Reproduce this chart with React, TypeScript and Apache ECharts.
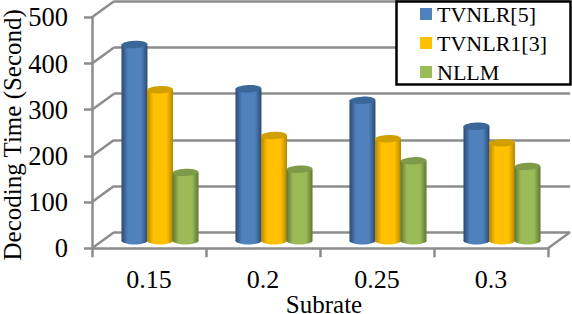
import React, { useEffect, useRef } from "react";
import * as echarts from "echarts";

const categories = ["0.15", "0.2", "0.25", "0.3"];
const seriesNames = ["TVNLR[5]", "TVNLR1[3]", "NLLM"];
const tvnlr5 = [425, 329, 304, 248];
const tvnlr1 = [327, 228, 221, 212];
const nllm = [148, 155, 173, 161];
const yTicks = [0, 100, 200, 300, 400, 500];
const seriesValues = [tvnlr5, tvnlr1, nllm];

const bodyColors = ["#4f81bd", "#ffc000", "#9bbb59"];
const edgeColors = ["#2b4a73", "#b58700", "#5f7732"];
const capColors = ["#3a6797", "#d19f00", "#7f9a48"];

const FONT = "Liberation Serif";
const GRID_LINE = "#8c8c8c";
const DX = 22;
const DY = 16;

function cylinder(seriesIndex: number) {
  return (params: any, api: any) => {
    const idx = api.value(0);
    const v = api.value(1);
    const base = api.coord([idx, 0]);
    const top = api.coord([idx, v]);
    const band = api.size([1, 0])[0];
    const w = band * 0.228;
    const step = band * 0.224;
    const cx = base[0] + DX / 2 + (seriesIndex - 1) * step;
    const lift = 7.5;
    const yb = base[1] - lift;
    const yt = top[1] - lift;
    const rx = w / 2;
    const ry = 3.7;
    const grad = new echarts.graphic.LinearGradient(0, 0, 1, 0, [
      { offset: 0, color: edgeColors[seriesIndex] },
      { offset: 0.25, color: bodyColors[seriesIndex] },
      { offset: 0.75, color: bodyColors[seriesIndex] },
      { offset: 1, color: edgeColors[seriesIndex] },
    ]);
    return {
      type: "group",
      children: [
        { type: "ellipse", shape: { cx, cy: yb, rx, ry }, style: { fill: grad } },
        { type: "rect", shape: { x: cx - rx, y: yt, width: w, height: yb - yt }, style: { fill: grad } },
        {
          type: "ellipse",
          shape: { cx, cy: yt, rx, ry },
          rotation: 0.04,
          originX: cx,
          originY: yt,
          style: { fill: capColors[seriesIndex] },
        },
      ],
    };
  };
}

export default function App() {
  const ref = useRef<HTMLDivElement>(null);
  useEffect(() => {
    const chart = echarts.init(ref.current!, undefined, { renderer: "svg" });
    chart.setOption({
      animation: false,
      backgroundColor: "#ffffff",
      textStyle: { fontFamily: FONT },
      grid: [
        { left: 92, top: 17.3, width: 456, height: 231, outerBoundsMode: "none", containLabel: false },
        { left: 114, top: 1.3, width: 456, height: 231, outerBoundsMode: "none", containLabel: false },
      ],
      xAxis: [
        {
          type: "category",
          gridIndex: 0,
          data: categories,
          boundaryGap: true,
          axisLine: { lineStyle: { color: GRID_LINE, width: 2.5 } },
          axisTick: { show: true, length: 9, alignWithLabel: false, lineStyle: { color: GRID_LINE, width: 2.5 } },
          axisLabel: { color: "#000", fontFamily: FONT, fontSize: 26, margin: 18 },
          name: "Subrate",
          nameLocation: "middle",
          nameGap: 44,
          nameMoveOverlap: false,
          nameTextStyle: { color: "#000", fontFamily: FONT, fontSize: 25, padding: [0, 0, 0, 8] },
        },
        {
          type: "category",
          gridIndex: 1,
          data: categories,
          show: false,
        },
      ],
      yAxis: [
        {
          type: "value",
          gridIndex: 0,
          min: 0,
          max: 500,
          interval: 100,
          axisLine: { show: true, lineStyle: { color: GRID_LINE, width: 2.5 } },
          axisTick: { show: true, length: 8, lineStyle: { color: GRID_LINE, width: 2.5 } },
          axisLabel: { color: "#000", fontFamily: FONT, fontSize: 26.5, margin: 24 },
          splitLine: { show: false },
          name: "Decoding Time (Second)",
          nameLocation: "middle",
          nameGap: 67,
          nameRotate: 90,
          nameMoveOverlap: false,
          nameTextStyle: { color: "#000", fontFamily: FONT, fontSize: 25, padding: [0, 4, 0, 0] },
        },
        {
          type: "value",
          gridIndex: 1,
          min: 0,
          max: 500,
          interval: 100,
          axisLine: { show: false },
          axisTick: { show: false },
          axisLabel: { show: false },
          splitLine: { show: true, lineStyle: { color: GRID_LINE, width: 2.5 } },
        },
      ],
      legend: {
        orient: "vertical",
        left: 415,
        top: 3,
        padding: [0, 0, 0, 5],
        itemWidth: 12,
        itemHeight: 12,
        itemGap: 7,
        icon: "rect",
        z: 20,
        data: seriesNames,
        textStyle: { color: "#000", fontFamily: FONT, fontSize: 22, padding: [0, 0, 0, 0] },
      },
      graphic: [
        {
          type: "rect",
          z: 15,
          shape: { x: 396.5, y: 1.5, width: 174, height: 83 },
          style: { fill: "#fff", stroke: "#000", lineWidth: 2.5 },
        },
      ],
      series: [
        {
          type: "custom",
          name: "walls",
          xAxisIndex: 0,
          yAxisIndex: 0,
          z: 1,
          silent: true,
          data: [...yTicks.map((t) => [0, t]), [categories.length, 0]],
          renderItem: (params: any, api: any) => {
            const x = api.value(0) === 0 ? params.coordSys.x : params.coordSys.x + params.coordSys.width;
            const y = api.coord([0, api.value(1)])[1];
            return {
              type: "line",
              shape: { x1: x, y1: y, x2: x + DX, y2: y - DY },
              style: { stroke: GRID_LINE, lineWidth: 2.5 },
            };
          },
          encode: { x: 0, y: 1 },
        },
        ...seriesNames.map((name, s) => ({
          type: "custom",
          name,
          xAxisIndex: 0,
          yAxisIndex: 0,
          z: 5 + s,
          itemStyle: { color: bodyColors[s] },
          data: seriesValues[s].map((v, i) => [i, v]),
          encode: { x: 0, y: 1 },
          renderItem: cylinder(s),
        })),
      ],
    });
    return () => chart.dispose();
  }, []);
  return <div ref={ref} style={{ position: "absolute", left: 0, top: 0, width: 572, height: 314 }} />;
}
